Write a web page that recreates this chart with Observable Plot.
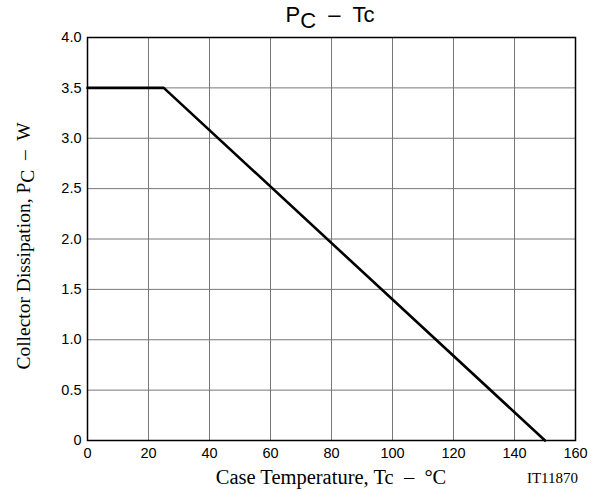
<!DOCTYPE html>
<html><head><meta charset="utf-8">
<script src="https://cdn.jsdelivr.net/npm/d3@7"></script>
<script src="https://cdn.jsdelivr.net/npm/@observablehq/plot@0.6"></script>
<style>body{margin:0;background:#fff}</style>
</head><body><div id="chart"></div>
<script>
const tempC = [0, 25, 150];
const powerW = [3.5, 3.5, 0];
const xTicks = [0, 20, 40, 60, 80, 100, 120, 140, 160];
const yTicks = [0, 0.5, 1.0, 1.5, 2.0, 2.5, 3.0, 3.5, 4.0];

const data = tempC.map((t, i) => ({t, p: powerW[i]}));

const chart = Plot.plot({
  width: 594, height: 491,
  marginLeft: 87, marginRight: 19, marginTop: 37, marginBottom: 51,
  style: {fontFamily: "'Liberation Sans', Arial, sans-serif", fontSize: "14.5px", color: "#000", background: "#fff"},
  x: {domain: [0, 160], ticks: xTicks, label: null},
  y: {domain: [0, 4], ticks: yTicks, label: null},
  marks: [
    Plot.gridX(xTicks, {stroke: "#777", strokeOpacity: 1, strokeWidth: 1}),
    Plot.gridY(yTicks, {stroke: "#777", strokeOpacity: 1, strokeWidth: 1}),
    Plot.axisX({ticks: xTicks, tickSize: 0, tickPadding: 7, fontSize: 14.5, label: null}),
    Plot.axisY({ticks: yTicks, tickSize: 0, tickPadding: 6, fontSize: 14.5, label: null,
      tickFormat: d => d === 0 ? "0" : d.toFixed(1)}),
    Plot.frame({stroke: "#000", strokeWidth: 1.5}),
    Plot.line(data, {x: "t", y: "p", stroke: "#000", strokeWidth: 2.6})
  ]
});
document.getElementById("chart").appendChild(chart);

const svg = d3.select(chart);
const serif = "'Liberation Serif', 'Times New Roman', serif";
// title
const title = svg.append("text").attr("x", 330).attr("y", 22).attr("text-anchor", "middle")
  .attr("font-family", "'Liberation Sans', Arial, sans-serif").attr("font-size", 22).attr("fill", "#000")
  .attr("xml:space", "preserve");
title.append("tspan").text("P");
title.append("tspan").attr("dy", 6).text("C");
title.append("tspan").attr("dy", -6).text("  –  Tc");
// x label
svg.append("text").attr("x", 331).attr("y", 484).attr("text-anchor", "middle")
  .attr("font-family", serif).attr("font-size", 20.5).attr("fill", "#000")
  .attr("xml:space", "preserve").text("Case Temperature, Tc  –  °C");
svg.append("text").attr("x", 578).attr("y", 483).attr("text-anchor", "end")
  .attr("font-family", serif).attr("font-size", 15).attr("fill", "#000").text("IT11870");
// y label
const yl = svg.append("text").attr("transform", "translate(30,246) rotate(-90)").attr("text-anchor", "middle")
  .attr("font-family", serif).attr("font-size", 19.5).attr("fill", "#000").attr("xml:space", "preserve");
yl.append("tspan").text("Collector Dissipation, P");
yl.append("tspan").attr("dy", 4).text("C");
yl.append("tspan").attr("dy", -4).text("  –  W");
</script></body></html>
